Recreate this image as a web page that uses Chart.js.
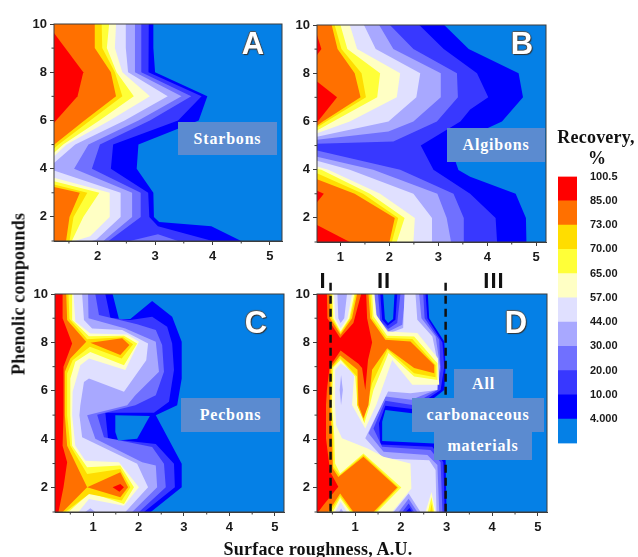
<!DOCTYPE html>
<html>
<head>
<meta charset="utf-8">
<script src="https://cdn.jsdelivr.net/npm/chart.js@4"></script>
<style>
  html, body { margin: 0; background: #fff; }
  #page { position: relative; width: 638px; height: 557px; overflow: hidden; filter: blur(0.4px); }
  canvas { position: absolute; }
  .box { position: absolute; background: #5b8bd0; color: #fff; font: bold 16px "Liberation Serif"; letter-spacing: 0.8px;
         display: flex; align-items: center; justify-content: center; }
  .txt { position: absolute; transform: translate(-50%, -50%); white-space: nowrap; color: #111; }
  .letter { font: bold 31px "Liberation Sans"; color: #fff; text-shadow: 1px 1px 1px #333, -1px 0 1px #555, 0 -1px 1px #555; }
  .roman { font: bold 22px "Liberation Sans"; letter-spacing: 1px; }
  .title { font: bold 18px "Liberation Serif"; letter-spacing: 0.2px; }
</style>
</head>
<body>
<div id="page">
  <canvas id="panelA"></canvas>
  <canvas id="panelB"></canvas>
  <canvas id="panelC"></canvas>
  <canvas id="panelD"></canvas>
  <canvas id="colorbar"></canvas>

  <div class="box" style="left:178px;top:122px;width:99px;height:33px">Starbons</div>
  <div class="box" style="left:447px;top:128px;width:98px;height:34px">Algibons</div>
  <div class="box" style="left:181px;top:398px;width:99px;height:34px">Pecbons</div>
  <div class="box" style="left:454px;top:369px;width:59px;height:30px">All</div>
  <div class="box" style="left:412px;top:398px;width:132px;height:34px">carbonaceous</div>
  <div class="box" style="left:434px;top:431px;width:98px;height:29px">materials</div>

  <div class="txt letter" style="left:253px;top:44px">A</div>
  <div class="txt letter" style="left:522px;top:44px">B</div>
  <div class="txt letter" style="left:256px;top:323px">C</div>
  <div class="txt letter" style="left:516px;top:323px">D</div>

  <div class="txt roman" style="left:323px;top:281px">I</div>
  <div class="txt roman" style="left:384px;top:281px">II</div>
  <div class="txt roman" style="left:494px;top:281px">III</div>

  <div class="txt title" style="left:19px;top:294px;transform:translate(-50%,-50%) rotate(-90deg)">Phenolic compounds</div>
  <div class="txt title" style="left:318px;top:549px">Surface roughness, A.U.</div>
  <div class="txt title" style="left:596px;top:137px">Recovery,</div>
  <div class="txt title" style="left:597px;top:158px">%</div>
</div>

<script>
// contour colours, lowest band first
const bandColors = ['#0580e6', '#0000ff', '#3838ff', '#7070ff', '#a8a8ff', '#e0e0ff', '#ffffc4', '#ffff38', '#ffdd00', '#ff7000', '#ff0000'];
const legendLabels = ['4.000', '10.00', '20.00', '30.00', '44.00', '57.00', '65.00', '70.00', '73.00', '85.00', '100.5'];

const yRange = [1, 10];
const yTicks = [2, 4, 6, 8, 10];
const yMinorTicks = [1, 3, 5, 7, 9];
const xTicksAll = [1, 2, 3, 4, 5];
const xMinorAll = [0.5, 1.5, 2.5, 3.5, 4.5];

// band edges, in axis units. [colour index, outline]; outlines run from the top to the bottom of the left edge
const starbonsLevels = [
  [1, [[2.97,10],[2.97,9],[3.00,8],[3.91,7],[3.76,6],[2.71,5],[2.68,4],[2.97,3],[2.98,2],[3.07,1.79],[3.98,1.61],[4.50,1]]],
  [2, [[2.89,10],[2.89,9],[2.88,8],[3.81,7],[3.40,6],[2.27,5],[2.23,4],[2.88,3],[2.90,2],[3.05,1.61],[4.00,1]]],
  [3, [[2.76,10],[2.76,9],[2.76,8],[3.63,7],[2.91,6],[2.04,5],[1.90,4],[2.75,3],[2.75,2],[2.19,1]]],
  [4, [[2.65,10],[2.65,9],[2.65,8],[3.46,7],[2.71,6],[1.84,5],[1.59,4],[2.60,3],[2.60,2],[2.13,1.06],[2.10,1]]],
  [5, [[2.49,10],[2.49,9],[2.53,8],[3.22,7],[2.47,6],[1.61,5],[1.24,4.24],[1.24,3.92],[2.40,3],[2.40,2],[1.98,1.06],[1.90,1]]],
  [6, [[2.32,10],[2.30,9],[2.43,8],[2.91,7],[2.21,6],[1.46,5],[1.24,4.52],[1.24,3.62],[2.21,3],[2.21,2],[1.87,1.2],[1.60,1]]],
  [7, [[2.20,10],[2.16,9],[2.33,8],[2.63,7],[2.03,6],[1.40,5],[1.24,4.66],[1.24,3.48],[2.03,3],[1.75,2],[1.55,1]]],
  [8, [[2.07,10],[2.08,9],[2.30,8],[2.43,7],[1.87,6],[1.32,5],[1.24,4.84],[1.24,3.34],[1.82,3],[1.58,2],[1.51,1]]],
  [9, [[1.95,10],[1.95,9],[2.23,8],[2.32,7],[1.77,6],[1.24,4.99],[1.24,3.24],[1.69,3],[1.51,2],[1.45,1]]]
];
const starbonsPatches = [
  [3, [[2.56,1],[3.05,1.28],[3.40,1]]],
  [10, [[1.24,9.63],[1.75,8],[1.65,7],[1.24,5.9]]]
];

const algibonsLevels = [
  [1, [[3.12,10],[3.62,9],[4.64,8],[4.73,7],[4.30,6],[3.24,5],[3.41,3.99],[3.65,3.71],[4.58,3],[4.79,2],[4.80,1]]],
  [2, [[2.61,10],[3.11,9],[3.79,8],[4.02,7],[3.65,6.5],[3.45,6],[2.64,5],[2.90,4],[3.65,3],[4.17,2],[4.20,1]]],
  [3, [[2.01,10],[2.49,9],[3.38,8],[3.40,7],[2.97,6],[2.08,5.17],[0.52,5.07],[0.52,4.79],[2.22,4],[3.31,3],[3.52,2],[3.52,1]]],
  [4, [[1.79,10],[2.08,9],[3.05,8],[3.05,7],[2.49,6],[1.98,5.58],[0.52,5.24],[0.52,4.54],[1.67,4],[2.98,3],[3.17,2],[3.26,1]]],
  [5, [[1.48,10],[1.72,9],[2.63,8],[2.55,7],[1.98,6],[0.52,5.37],[0.52,4.37],[1.19,4],[2.49,3],[2.87,2],[2.87,1]]],
  [6, [[1.19,10],[1.34,9],[2.22,8],[2.15,7],[1.19,6],[0.52,5.51],[0.52,4.13],[0.75,4],[1.81,3],[2.52,2],[2.49,1]]],
  [7, [[1.00,10],[1.14,9],[1.81,8],[1.75,7],[0.85,6],[0.52,5.62],[0.52,4.03],[0.61,4],[1.60,3],[2.31,2],[2.15,1]]],
  [8, [[0.88,10],[1.02,9],[1.43,8],[1.52,7],[0.71,6],[0.52,5.75],[0.52,3.85],[1.46,3],[2.18,2],[2.05,1]]],
  [9, [[0.82,10],[0.94,9],[1.29,8],[1.41,7],[0.64,6],[0.52,5.82],[0.52,3.60],[1.29,3],[2.11,2],[2.00,1]]]
];
const algibonsPatches = [
  [10, [[0.52,9.59],[0.61,9],[0.52,8.76]]],
  [10, [[0.52,7.66],[0.93,7],[0.52,5.96]]],
  [10, [[0.52,3.13],[0.66,3],[0.52,2.65]]],
  [10, [[0.52,1.71],[1.19,1],[0.52,1]]]
];

const pecbonsLevels = [
  [1, [[1.43,10],[1.57,8.97],[1.82,8.97],[2.30,9.71],[2.74,9.06],[2.95,8.03],[2.95,6.51],[2.85,5.41],[2.38,4.99],[2.95,2.99],[2.95,2.02],[2.27,1]]],
  [2, [[1.27,10],[1.38,9.02],[1.82,8.93],[2.30,9.06],[2.63,8.65],[2.74,7.96],[2.78,6.86],[2.67,5.55],[2.34,5.10],[1.27,5.10],[1.33,4.02],[2.38,3.81],[2.78,2.99],[2.80,2.02],[2.12,1]]],
  [3, [[1.05,10],[1.13,9.13],[1.97,8.75],[2.38,8.51],[2.52,7.89],[2.56,6.79],[2.38,5.82],[1.93,5.41],[1.09,5.01],[1.24,4.09],[2.30,3.68],[2.56,2.99],[2.60,2.02],[2.01,1]]],
  [4, [[0.89,10],[0.90,9],[1.71,8.58],[2.38,8.03],[2.45,6.79],[1.93,5.82],[1.75,5.41],[0.87,4.99],[1.05,4.02],[2.08,3.05],[2.38,2.92],[2.41,2.02],[1.86,1]]],
  [5, [[0.76,10],[0.80,8.93],[0.98,8.58],[1.64,8.51],[2.21,7.96],[2.17,7.27],[1.68,5.96],[0.91,6.51],[0.80,6.37],[0.72,5.41],[0.70,4.99],[0.76,4.09],[1.97,2.99],[2.21,2.02],[1.71,1]]],
  [6, [[0.57,10],[0.61,8.86],[0.94,8.37],[1.75,8.33],[2.01,8.03],[1.71,6.86],[0.91,7.34],[0.72,7.06],[0.55,5.96],[0.54,4.99],[0.61,3.74],[0.83,3.12],[1.57,3.05],[2.01,2.02],[1.68,1.26],[0.91,1.54],[0.68,1]]],
  [7, [[0.54,10],[0.54,8.93],[0.91,8.26],[1.68,8.28],[1.97,7.96],[1.68,7.06],[0.94,7.61],[0.61,7.20],[0.50,6.51],[0.50,4.99],[0.54,3.74],[0.87,2.85],[1.60,2.92],[1.90,2.02],[1.68,1.33],[0.94,1.79],[0.61,1.26],[0.46,1]]],
  [8, [[0.46,10],[0.48,8.97],[0.87,8.13],[1.66,8.21],[1.88,7.93],[1.63,7.34],[0.93,7.82],[0.55,7.27],[0.43,6.72],[0.43,4.99],[0.50,3.74],[0.87,2.57],[1.60,2.78],[1.82,2.02],[1.63,1.47],[0.91,1.74],[0.39,1]]],
  [9, [[0.41,10],[0.43,8.93],[0.85,8.03],[0.50,7.34],[0.38,6.79],[0.38,4.99],[0.43,3.74],[0.87,2.02],[0.33,1]]],
  [10, [[0.33,10],[0.33,9],[0.54,7.96],[0.35,7],[0.35,4.99],[0.33,3.74],[0.43,3.05],[0.35,2.02],[0.24,1]]]
];
const pecbonsPatches = [
  [0, [[1.49,4.99],[2.25,4.96],[1.97,4.02],[1.55,3.95],[1.49,4.30]]],
  [4, [[0.83,1],[0.94,1.15],[1.05,1]]],
  [9, [[0.94,7.99],[1.64,8.17],[1.80,7.89],[1.60,7.48]]],
  [9, [[0.87,2.02],[1.60,2.64],[1.77,2.02],[1.60,1.61]]],
  [10, [[1.43,2.02],[1.60,2.16],[1.68,2.02],[1.58,1.84]]]
];

const allLevels = [
  [1, [[1.61,10],[1.65,8.97],[1.72,8.80],[1.83,8.97],[1.86,10],[2.59,10],[2.62,9],[2.95,8.04],[2.98,7],[2.95,6.04],[2.29,5.07],[1.66,5.21],[1.59,4.73],[1.59,3.93],[2.73,3.83],[2.98,3.14],[3.00,1]]],
  [2, [[1.55,10],[1.59,8.94],[1.71,8.69],[1.88,8.94],[1.92,10],[2.54,10],[2.58,9],[2.91,8],[2.95,7],[2.87,6.04],[2.25,5.25],[1.66,5.39],[1.52,4.66],[1.55,3.79],[2.69,3.69],[2.93,3.05],[2.96,1]]],
  [3, [[1.50,10],[1.55,8.89],[1.72,8.55],[1.92,8.80],[1.99,10],[2.49,10],[2.52,9],[2.84,8.11],[2.87,6.87],[2.80,6.04],[2.25,5.42],[1.66,5.59],[1.40,4.45],[1.59,3.69],[2.65,3.56],[2.87,3.05],[2.91,1]]],
  [4, [[1.42,10],[1.48,9],[1.73,8.45],[2.03,8.73],[2.10,10],[2.40,10],[2.45,9],[2.76,8.25],[2.86,7],[2.76,6.04],[2.23,5.63],[1.66,5.77],[1.29,4.25],[1.62,3.49],[2.58,3.35],[2.80,2.94],[2.84,1]]],
  [5, [[0.61,10],[0.63,9],[0.68,8.8],[0.76,9],[0.82,10],[1.37,10],[1.42,9],[1.70,8.35],[2.05,8.6],[2.08,10],[2.32,10],[2.36,8.94],[2.69,8.25],[2.81,7.14],[2.80,6.04],[2.21,5.9],[1.72,5.97],[1.22,4.04],[1.62,3.21],[2.62,3.14],[2.76,2.73],[2.78,1]]],
  [6, [[0.54,10],[0.56,9],[0.68,8.59],[0.83,9],[0.93,10],[1.42,10],[1.46,9.14],[1.71,8.45],[2.36,8.39],[2.81,7.35],[2.84,6.25],[2.25,6.25],[1.81,7.28],[1.46,5.42],[1.22,4.45],[0.93,5.42],[0.98,6.73],[0.68,7.14],[0.56,6.87],[0.56,5.42],[0.58,4.59],[0.71,4.04],[1.26,3.63],[1.62,3.28],[2.21,3],[2.23,1.97],[1.81,1],[0.82,1],[0.68,1.42],[0.56,1]]],
  [7, [[0.50,10],[0.52,9],[0.68,8.45],[0.87,9],[0.98,10],[1.37,10],[1.40,9.08],[1.70,8.28],[2.29,8.25],[2.80,7.14],[2.80,6.45],[2.29,6.59],[1.73,7.56],[1.40,6.04],[1.32,5.42],[1.20,4.66],[1.05,5.42],[1.00,6.59],[0.68,7.28],[0.52,6.97],[0.49,5.42],[0.54,4.18],[0.56,3],[0.67,2.59],[1.18,3.42],[2.01,2.01],[1.48,1],[0.89,1],[0.67,1.58],[0.51,1]]],
  [8, [[0.48,10],[0.49,9],[0.68,8.39],[0.89,9],[1.01,10],[1.33,10],[1.37,9],[1.68,8.18],[2.25,8.14],[2.76,7.07],[2.76,6.56],[2.29,6.73],[1.71,7.7],[1.37,6.32],[1.26,5.42],[1.19,4.76],[1.04,5.42],[1.04,6.59],[0.67,7.35],[0.49,6.94],[0.48,5.42],[0.52,4.04],[0.52,2.87],[0.66,2.52],[1.18,3.35],[1.95,2.01],[1.44,1],[0.93,1],[0.67,1.66],[0.46,1]]],
  [9, [[0.44,10],[0.45,9],[0.68,8.32],[0.93,9],[1.04,10],[1.29,10],[1.33,9],[1.66,8.11],[2.21,8.04],[2.73,7.07],[2.73,6.73],[2.29,6.94],[1.70,7.76],[1.37,6.87],[1.29,5.42],[1.18,4.87],[1.07,5.42],[1.05,6.87],[0.67,7.46],[0.46,6.94],[0.45,5.42],[0.49,4.04],[0.51,2.80],[0.63,2.45],[1.18,3.28],[1.92,2.01],[1.40,1],[0.96,1],[0.67,1.76],[0.41,1]]],
  [10, [[0.38,10],[0.39,9],[0.67,8.18],[0.96,8.8],[1.13,10],[1.24,10],[1.26,9],[1.37,8],[1.28,7.28],[1.22,6.04],[1.15,6.94],[1.07,7.12],[0.68,7.67],[0.44,7],[0.38,6.04],[0.36,5.42],[0.36,4.04],[0.45,2.66],[0.63,2.04],[0.30,1.28],[0.19,1]]]
];
const allPatches = [
  [4, [[0.66,6.04],[0.69,6.66],[0.73,6.04],[0.69,5.42]]],
  [4, [[1.84,1],[2.17,1.76],[2.43,1]]],
  [3, [[1.95,1],[2.17,1.55],[2.36,1]]],
  [2, [[2.03,1],[2.17,1.35],[2.29,1]]],
  [1, [[2.10,1],[2.19,1.17],[2.25,1]]],
  [6, [[2.54,1],[2.67,1.83],[2.76,1]]],
  [7, [[2.59,1],[2.67,1.62],[2.73,1]]],
  [8, [[2.64,1],[2.67,1.35],[2.70,1]]],
  [4, [[0.65,1],[0.69,1.14],[0.74,1]]]
];
const regionLimits = [0.46, 2.98];
const regionLineY = [10.46, 0.97];

// plot box is fixed, so the canvas is sized around it
const marginLeft = 38, marginRight = 8, marginTop = 20, marginBottom = 36;

const frameAndMinorTicks = {
  id: 'frameAndMinorTicks',
  afterDatasetsDraw: function(chart, args, opts) {
    var ctx = chart.ctx, area = chart.chartArea;
    ctx.save();
    ctx.strokeStyle = '#3c3c3c';
    ctx.lineWidth = 1;
    ctx.strokeRect(area.left, area.top, area.right - area.left, area.bottom - area.top);
    ctx.beginPath();
    opts.xMinor.forEach(function(v) {
      if (v < chart.scales.x.min) return;
      var px = chart.scales.x.getPixelForValue(v);
      ctx.moveTo(px, area.bottom);
      ctx.lineTo(px, area.bottom + 2.5);
    });
    yMinorTicks.forEach(function(v) {
      var py = chart.scales.y.getPixelForValue(v);
      ctx.moveTo(area.left, py);
      ctx.lineTo(area.left - 2.5, py);
    });
    ctx.stroke();
    ctx.restore();
  }
};

function polygonDataset(colorIndex, pts) {
  return {
    data: pts.map(function(p) { return { x: p[0], y: p[1] }; }),
    showLine: true,
    fill: 'shape',
    backgroundColor: bandColors[colorIndex],
    borderWidth: 0,
    pointRadius: 0
  };
}

function makePanel(id, box, xMin, xMax, levels, patches, extra) {
  var canvas = document.getElementById(id);
  canvas.width = box.right - box.left + marginLeft + marginRight;
  canvas.height = box.bottom - box.top + marginTop + marginBottom;
  canvas.style.left = (box.left - marginLeft) + 'px';
  canvas.style.top = (box.top - marginTop) + 'px';

  var datasets = [polygonDataset(0, [[xMin, yRange[1]], [xMax, yRange[1]], [xMax, yRange[0]], [xMin, yRange[0]]])];
  levels.forEach(function(level) {
    var outline = [[xMin, yRange[1]]].concat(level[1], [[xMin, yRange[0]]]);
    datasets.push(polygonDataset(level[0], outline));
  });
  patches.forEach(function(patch) {
    datasets.push(polygonDataset(patch[0], patch[1]));
  });
  if (extra) datasets = datasets.concat(extra);

  new Chart(canvas, {
    type: 'scatter',
    // the first dataset is painted last
    data: { datasets: datasets.reverse() },
    options: {
      responsive: false,
      animation: false,
      events: [],
      layout: { padding: { left: 0, right: marginRight, top: marginTop, bottom: 0 } },
      plugins: {
        legend: { display: false },
        tooltip: { enabled: false },
        frameAndMinorTicks: { xMinor: xMinorAll }
      },
      scales: {
        x: {
          type: 'linear', min: xMin, max: xMax,
          afterBuildTicks: function(scale) {
            scale.ticks = xTicksAll.filter(function(v) { return v >= xMin; }).map(function(v) { return { value: v }; });
          },
          afterFit: function(scale) { scale.height = marginBottom; },
          grid: { drawOnChartArea: false, tickLength: 4, tickColor: '#3c3c3c' },
          border: { color: '#3c3c3c' },
          ticks: { autoSkip: false, maxRotation: 0, padding: 4, color: '#1a1a1a', font: { family: 'Liberation Sans', weight: 'bold', size: 13 } }
        },
        y: {
          type: 'linear', min: yRange[0], max: yRange[1],
          afterBuildTicks: function(scale) {
            scale.ticks = yTicks.map(function(v) { return { value: v }; });
          },
          afterFit: function(scale) { scale.width = marginLeft; },
          grid: { drawOnChartArea: false, tickLength: 4, tickColor: '#3c3c3c' },
          border: { color: '#3c3c3c' },
          ticks: { autoSkip: false, padding: 3, color: '#1a1a1a', font: { family: 'Liberation Sans', weight: 'bold', size: 13 } }
        }
      }
    },
    plugins: [frameAndMinorTicks]
  });
}

function regionLine(x) {
  return {
    data: regionLineY.map(function(y) { return { x: x, y: y }; }),
    showLine: true,
    fill: false,
    clip: false,
    borderColor: '#111',
    borderWidth: 2.5,
    borderDash: [8, 5],
    pointRadius: 0
  };
}

makePanel('panelA', { left: 54, right: 282, top: 24, bottom: 241 }, 1.24, 5.21, starbonsLevels, starbonsPatches);
makePanel('panelB', { left: 317, right: 546, top: 25, bottom: 242 }, 0.52, 5.2, algibonsLevels, algibonsPatches);
makePanel('panelC', { left: 55, right: 284, top: 294, bottom: 512 }, 0.163, 5.2, pecbonsLevels, pecbonsPatches);
makePanel('panelD', { left: 317, right: 547, top: 294, bottom: 512 }, 0.163, 5.2, allLevels, allPatches, regionLimits.map(regionLine));

// colour key, the axis keeps about 12px free at each end
var bar = document.getElementById('colorbar');
bar.width = 70;
bar.height = 290;
bar.style.left = '558px';
bar.style.top = '165px';
new Chart(bar, {
  type: 'bar',
  data: {
    labels: ['Recovery'],
    datasets: bandColors.map(function(c) { return { data: [1], backgroundColor: c, barPercentage: 1, categoryPercentage: 1 }; })
  },
  options: {
    responsive: false,
    animation: false,
    events: [],
    layout: { autoPadding: false, padding: { top: 8, bottom: 8, left: 0, right: 0 } },
    plugins: { legend: { display: false }, tooltip: { enabled: false } },
    scales: {
      x: { stacked: true, display: false },
      y: {
        stacked: true, position: 'right', min: 0, max: bandColors.length,
        afterBuildTicks: function(scale) {
          scale.ticks = legendLabels.map(function(l, i) { return { value: i + 1 }; });
        },
        afterFit: function(scale) { scale.width = 51; },
        grid: { display: false },
        border: { display: false },
        ticks: {
          autoSkip: false, padding: 5, color: '#1a1a1a', font: { family: 'Liberation Sans', weight: 'bold', size: 11 },
          callback: function(v) { return legendLabels[v - 1]; }
        }
      }
    }
  }
});
</script>
</body>
</html>
